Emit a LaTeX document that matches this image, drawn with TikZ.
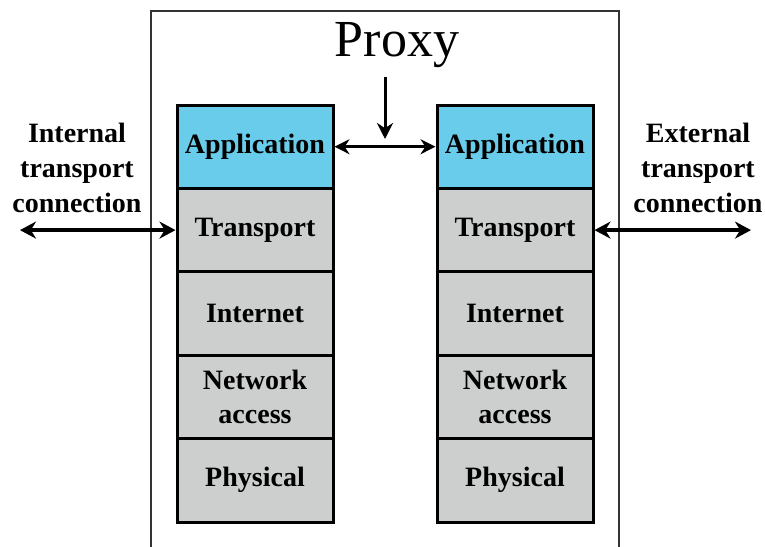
\documentclass[tikz,border=0pt]{standalone}
\usepackage{fontspec}
\setmainfont{Liberation Serif}
\usetikzlibrary{arrows.meta}
\definecolor{appblue}{RGB}{104,204,234}
\definecolor{laygray}{RGB}{204,207,206}
\begin{document}
\begin{tikzpicture}[x=1pt,y=-1pt,
  layer/.style={draw=black,line width=3pt,fill=laygray,minimum width=156pt,minimum height=83.4pt,inner sep=0pt,align=center,font=\fontsize{28}{34}\selectfont\bfseries},
  applayer/.style={layer,fill=appblue},
  lbl/.style={align=center,font=\fontsize{28}{35}\selectfont\bfseries},
  thickarrow/.style={line width=4pt,{Stealth[length=16pt,width=17pt]}-{Stealth[length=16pt,width=17pt]}},
  proxarrow/.style={line width=3pt,{Stealth[length=15pt,width=15pt]}-{Stealth[length=15pt,width=15pt]}},
  downarrow/.style={line width=3pt,-{Stealth[length=16pt,width=16pt]}}]
\useasboundingbox (0,0) rectangle (765,546);
% outer proxy box (open at the bottom)
\draw[line width=2pt,black!80] (151,547) -- (151,11) -- (619,11) -- (619,547);
\node (proxy) at (397,45) {\fontsize{52}{52}\selectfont Proxy};
% left stack
\node[applayer] (la) at (255,146.7) {Application};
\node[layer] (lt) at (255,230.1) {Transport};
\node[layer] (li) at (255,313.5) {Internet};
\node[layer] (ln) at (255,396.9) {Network\\access};
\node[layer] (lp) at (255,480.3) {Physical};
% right stack
\node[applayer] (ra) at (515,146.7) {Application};
\node[layer] (rt) at (515,230.1) {Transport};
\node[layer] (ri) at (515,313.5) {Internet};
\node[layer] (rn) at (515,396.9) {Network\\access};
\node[layer] (rp) at (515,480.3) {Physical};
% labels
\node[lbl] (intl) at (77,168) {Internal\\transport\\connection};
\node[lbl] (extl) at (698,168) {External\\transport\\connection};
\coordinate (lend) at (20,230.1);
\coordinate (rend) at (751,230.1);
\coordinate (ptop) at (385,77);
\coordinate (pbot) at (385,139);
% connectors
\draw[thickarrow] (lend) -- (lt.west);
\draw[thickarrow] (rt.east) -- (rend);
\draw[proxarrow] (la.east) -- (ra.west);
\draw[downarrow] (ptop) -- (pbot);
\end{tikzpicture}
\end{document}
